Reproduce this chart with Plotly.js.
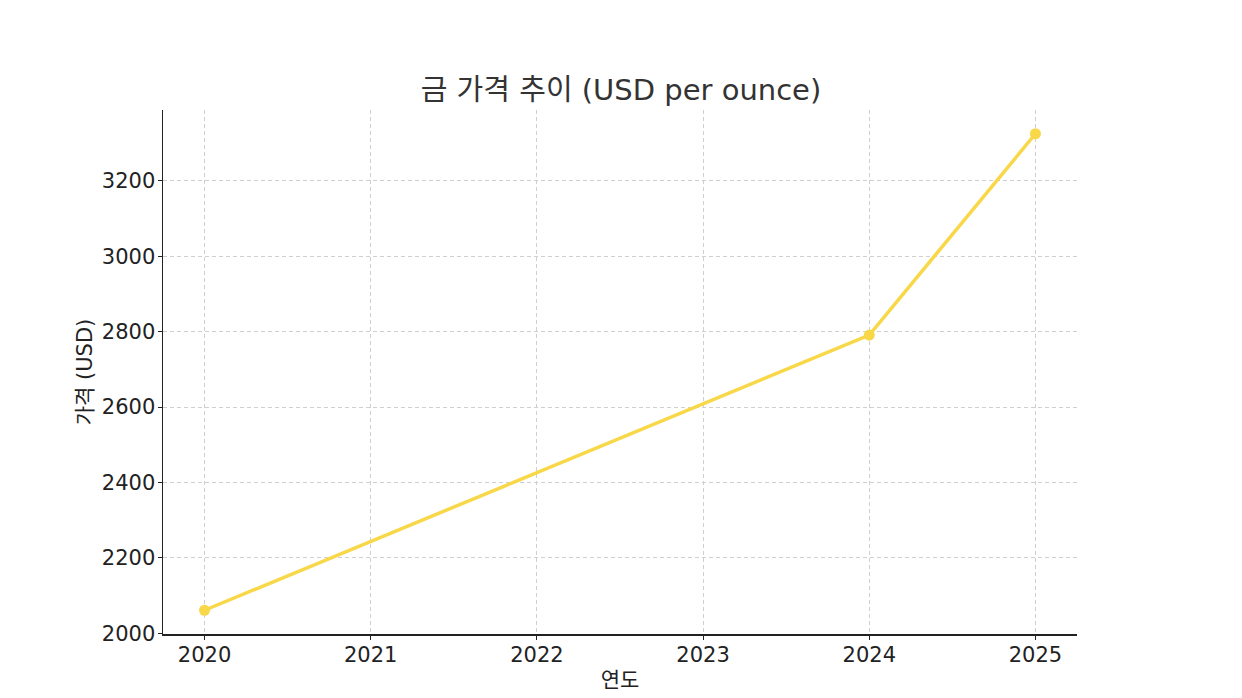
<!DOCTYPE html>
<html>
<head>
<meta charset="utf-8">
<script src="https://cdn.plot.ly/plotly-3.0.1.min.js"></script>
<style>html,body{margin:0;padding:0;background:#fff;}#chart{width:1242px;height:698px;}</style>
</head>
<body>
<div id="chart"></div>
<script>
const years = [2020, 2024, 2025];
const prices = [2061, 2791, 3325];
const xTicks = [2020, 2021, 2022, 2023, 2024, 2025];
const yTicks = [2000, 2200, 2400, 2600, 2800, 3000, 3200];
const titleText = '금 가격 추이 (USD per ounce)';
const xLabel = '연도';
const yLabel = '가격 (USD)';

const font = 'DejaVu Sans, Noto Sans CJK KR, sans-serif';

Plotly.newPlot('chart', [{
  x: years, y: prices, type: 'scatter', mode: 'lines+markers',
  line: {color: '#F8D848', width: 3.5},
  marker: {color: '#F8D848', size: 11},
  hoverinfo: 'skip'
}], {
  width: 1242, height: 698,
  margin: {l: 163, r: 165, t: 110, b: 64},
  paper_bgcolor: '#fff', plot_bgcolor: '#fff',
  showlegend: false,
  title: {text: titleText, font: {family: font, size: 29, color: '#333333'}, x: 0.5, xanchor: 'center', y: 1 - 90/698, yanchor: 'middle'},
  xaxis: {
    range: [2019.75, 2025.25], tickvals: xTicks, ticktext: xTicks.map(String),
    showgrid: true, gridcolor: '#cfcfcf', griddash: '4px,3px', gridwidth: 1,
    showline: true, linecolor: '#222', linewidth: 1.5, mirror: false,
    ticks: 'outside', ticklen: 4, tickcolor: '#222', zeroline: false,
    ticklabelstandoff: -3,
    tickfont: {family: font, size: 21, color: '#222'},
    title: {text: xLabel, font: {family: font, size: 21, color: '#222'}, standoff: 6}
  },
  yaxis: {
    range: [1998, 3388], tickvals: yTicks, ticktext: yTicks.map(String),
    showgrid: true, gridcolor: '#cfcfcf', griddash: '4px,3px', gridwidth: 1,
    showline: true, linecolor: '#222', linewidth: 1.5, mirror: false,
    ticks: 'outside', ticklen: 4, tickcolor: '#222', zeroline: false,
    ticklabelstandoff: -2,
    tickfont: {family: font, size: 21, color: '#222'},
    title: {text: yLabel, font: {family: font, size: 21, color: '#222'}, standoff: 3}
  }
}, {displayModeBar: false, staticPlot: true});
</script>
</body>
</html>
